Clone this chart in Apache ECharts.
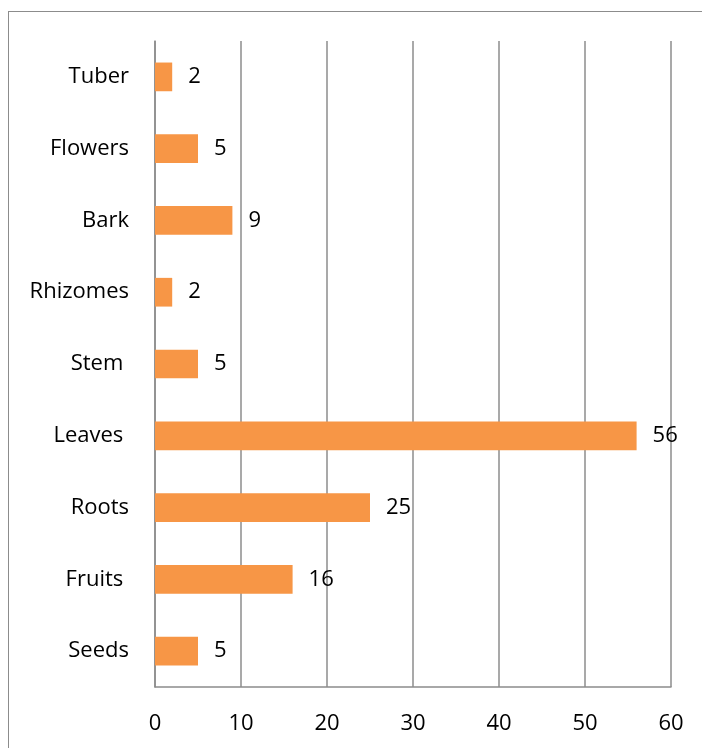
<!DOCTYPE html>
<html><head><meta charset="utf-8">
<script src="https://cdn.jsdelivr.net/npm/echarts@6/dist/echarts.min.js"></script>
<style>
html,body{margin:0;padding:0;background:#fff;}
#frame{position:absolute;left:8px;top:11px;width:720px;height:760px;border:1.5px solid #8c8c8c;box-sizing:border-box;}
#chart{position:absolute;left:0;top:0;width:702px;height:748px;}
</style></head>
<body>
<div id="frame"></div>
<div id="chart"></div>
<script>
var categories = ["Seeds", "Fruits ", "Roots", "Leaves ", "Stem ", "Rhizomes", "Bark", "Flowers", "Tuber"];
var values = [5, 16, 25, 56, 5, 2, 9, 5, 2];
var xTicks = [0, 10, 20, 30, 40, 50, 60];

var chart = echarts.init(document.getElementById('chart'), null, {renderer: 'canvas'});
var font = '"Open Sans", sans-serif';
chart.setOption({
  animation: false,
  backgroundColor: 'transparent',
  grid: {left: 155, right: 31, top: 41, bottom: 61, containLabel: false},
  xAxis: {
    type: 'value', min: xTicks[0], max: xTicks[xTicks.length - 1], interval: 10,
    axisLine: {show: true, lineStyle: {color: '#8c8c8c', width: 1.5}},
    axisTick: {show: false},
    splitLine: {show: true, lineStyle: {color: '#8c8c8c', width: 1.5}},
    axisLabel: {color: '#000', fontFamily: font, fontSize: 22, margin: 26}
  },
  yAxis: {
    type: 'category', data: categories,
    axisLine: {show: true, lineStyle: {color: '#8c8c8c', width: 1.5}},
    axisTick: {show: false},
    axisLabel: {color: '#000', fontFamily: font, fontSize: 22, margin: 26, padding: [4, 0, 0, 0]}
  },
  series: [{
    type: 'bar', data: values, barWidth: '40%',
    itemStyle: {color: '#F79646'},
    label: {show: true, position: 'right', distance: 16, color: '#000', fontFamily: font, fontSize: 22, padding: [4, 0, 0, 0]}
  }]
});
</script>
</body></html>
